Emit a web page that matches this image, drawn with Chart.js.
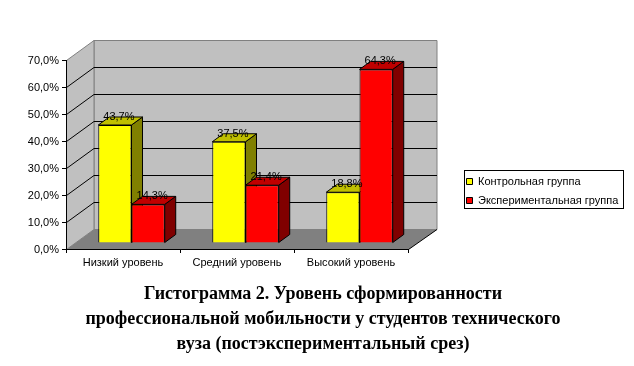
<!DOCTYPE html>
<html><head><meta charset="utf-8">
<style>
html,body{margin:0;padding:0;background:#fff;width:634px;height:366px;overflow:hidden}
#wrap{position:relative;width:634px;height:366px}
canvas{position:absolute;left:0;top:0}
#cap{position:absolute;left:0;top:281px;width:646px;text-align:center;font:bold 18px/25px "Liberation Serif",serif;color:#000;white-space:nowrap}
</style>
<script src="https://cdn.jsdelivr.net/npm/chart.js@4"></script>
</head><body>
<div id="wrap"><canvas id="c" width="634" height="366"></canvas>
<div id="cap"></div></div>
<script>
const categories = ["Низкий уровень","Средний уровень","Высокий уровень"];
const controlGroup = [43.7,37.5,18.8];
const experimentalGroup = [14.3,21.4,64.3];
const tickValues = [0,10,20,30,40,50,60,70];
const seriesNames = ["Контрольная группа","Экспериментальная группа"];
const captionLines = ["Гистограмма 2. Уровень сформированности","профессиональной мобильности у студентов технического","вуза (постэкспериментальный срез)"];
document.getElementById('cap').innerHTML = captionLines.join('<br>');

const DX=27.5, DY=20, BX=8.5, BY=6, SX=11, SY=8;
const SANS='"Liberation Sans",Arial,sans-serif';
const fmt=v=>v.toFixed(1).replace('.',',')+'%';
const poly=(ctx,pts,fill,stroke)=>{ctx.beginPath();pts.forEach((p,i)=>i?ctx.lineTo(p[0],p[1]):ctx.moveTo(p[0],p[1]));ctx.closePath();
  if(fill){ctx.fillStyle=fill;ctx.fill();} if(stroke){ctx.strokeStyle=stroke;ctx.lineWidth=1;ctx.stroke();}};
const faces=[{top:'#C0C000',side:'#808000'},{top:'#C00000',side:'#800000'}];

const box3d={id:'box3d',
  afterLayout(chart){
    const l=chart.legend; const w=l.width,h=l.height;
    l.left=458.5;l.right=458.5+w;l.top=191-h/2;l.bottom=191+h/2;
  },
  beforeDraw(chart){
    const ctx=chart.ctx,a=chart.chartArea,y=chart.scales.y;
    const L=a.left+.5,R=a.right+.5,T=a.top+.5,B=a.bottom+.5;
    ctx.save();
    poly(ctx,[[L+DX,T-DY],[R+DX+1,T-DY],[R+DX+1,B-DY],[L+DX,B-DY]],'#C0C0C0','#808080');
    poly(ctx,[[L,T],[L+DX,T-DY],[L+DX,B-DY],[L,B]],'#C0C0C0','#808080');
    poly(ctx,[[L,B],[L+DX,B-DY],[R+DX+1,B-DY],[R,B]],'#808080',null);
    ctx.strokeStyle='#000';ctx.lineWidth=1;
    y.ticks.forEach(t=>{ if(t.value===0||t.value===70) return;
      const p=Math.round(y.getPixelForValue(t.value))+.5;
      ctx.beginPath();ctx.moveTo(L,p);ctx.lineTo(L+DX,p-DY);ctx.lineTo(R+DX+1,p-DY);ctx.stroke();});
    ctx.beginPath();ctx.moveTo(R,B);ctx.lineTo(R+DX+1,B-DY);ctx.stroke();
    ctx.restore();
  },
  beforeDatasetsDraw(chart){
    const ctx=chart.ctx;ctx.save();ctx.translate(BX,-BY);
    [0,1].forEach(i=>{const f=faces[i];
      chart.getDatasetMeta(i).data.forEach(b=>{
        const l=b.x-b.width/2,r=b.x+b.width/2,t=b.y,bt=b.base;
        poly(ctx,[[r,t],[r+SX,t-SY],[r+SX,bt-SY],[r,bt]],f.side,'#000');
        poly(ctx,[[l,t],[l+SX,t-SY],[r+SX,t-SY],[r,t]],f.top,'#000');
      });
    });
  },
  afterDatasetsDraw(chart){
    const ctx=chart.ctx;
    ctx.font='11px '+SANS;ctx.fillStyle='#000';ctx.textAlign='center';ctx.textBaseline='middle';
    [0,1].forEach(i=>chart.getDatasetMeta(i).data.forEach((b,j)=>{
      ctx.fillText(fmt(chart.data.datasets[i].data[j]),b.x+4,b.y-8);
    }));
    ctx.restore();
  },
  afterDraw(chart){
    const ctx=chart.ctx;ctx.save();ctx.strokeStyle='#000';ctx.lineWidth=1;
    ctx.strokeRect(464.5,170.5,159,38);ctx.restore();
  }
};

new Chart(document.getElementById('c'),{
  type:'bar',
  data:{labels:categories,datasets:[
    {label:seriesNames[0],data:controlGroup,backgroundColor:'#FFFF00',borderColor:'#000',borderWidth:1,clip:false},
    {label:seriesNames[1],data:experimentalGroup,backgroundColor:'#FF0000',borderColor:'#000',borderWidth:1,clip:false}
  ]},
  options:{responsive:false,animation:false,events:[],
    layout:{autoPadding:false,padding:{left:0,top:60,right:226,bottom:87}},
    datasets:{bar:{categoryPercentage:0.583,barPercentage:1}},
    plugins:{title:{display:false},tooltip:{enabled:false},
      legend:{position:'chartArea',align:'center',labels:{boxWidth:6,boxHeight:6,padding:8,color:'#000',font:{family:SANS,size:11}}}},
    scales:{
      x:{offset:true,afterFit(s){s.height=30;},
        grid:{offset:true,drawOnChartArea:false,color:'#000',tickLength:4,tickColor:'#000'},
        border:{color:'#000'},
        ticks:{color:'#000',maxRotation:0,autoSkip:false,padding:3,font:{family:SANS,size:11}}},
      y:{min:tickValues[0],max:tickValues[tickValues.length-1],afterFit(s){s.width=66;},
        grid:{drawOnChartArea:false,color:'#000',tickLength:4,tickColor:'#000'},
        border:{color:'#000'},
        ticks:{stepSize:10,color:'#000',padding:3,labelOffset:1,font:{family:SANS,size:11},callback:v=>fmt(v)}}
    }
  },
  plugins:[box3d]
});
</script></body></html>
